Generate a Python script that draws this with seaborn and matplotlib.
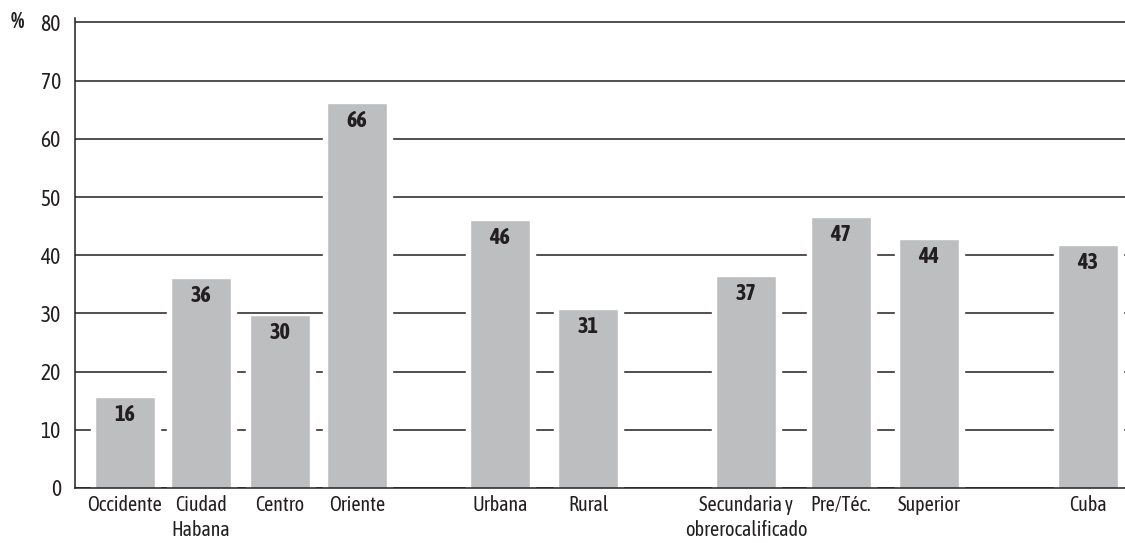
import matplotlib
matplotlib.use("Agg")
import matplotlib.pyplot as plt
import matplotlib.patheffects as pe
from matplotlib import font_manager
import seaborn as sns
import pandas as pd

# Data
categories = ["Occidente", "Ciudad\nHabana", "Centro", "Oriente", "Urbana", "Rural",
              "Secundaria y\nobrerocalificado", "Pre/Téc.", "Superior", "Cuba"]
bar_values = [15.6, 36.0, 29.7, 66.1, 46.0, 30.8, 36.5, 46.6, 42.7, 41.7]
value_labels = ["16", "36", "30", "66", "46", "31", "37", "47", "44", "43"]
y_ticks = [0, 10, 20, 30, 40, 50, 60, 70, 80]

# Layout: bar slot centres along the x axis (groups are spaced unevenly)
slot_x = [125, 201, 280, 357, 500, 588, 746, 841, 929, 1088]

sns.set_style("white")

# the original uses a condensed face; take one if any is installed,
# preferring a family that also ships a bold weight
fonts = [f for f in font_manager.fontManager.ttflist
         if "Condensed" in f.name or "Narrow" in f.name]
with_bold = sorted({f.name for f in fonts
                    if isinstance(f.weight, int) and f.weight >= 600
                    or f.weight in ("bold", "semibold", "demibold", "heavy", "black")})
plain = sorted({f.name for f in fonts})
if with_bold:
    family, fake_bold = with_bold[0], False
elif plain:
    family, fake_bold = plain[0], True
else:
    family, fake_bold = "Liberation Sans", False
plt.rcParams["font.family"] = [family, "DejaVu Sans"]
xtick_size, ytick_size, value_size = 14.5, 15.5, 16

bold_fx = [pe.withStroke(linewidth=1.0, foreground="#231f20")] if fake_bold else None

ink = "#231f20"
bar_gray = "#bcbec0"

df = pd.DataFrame({"pos": slot_x, "value": bar_values})

fig = plt.figure(figsize=(11.25, 5.43), dpi=100)
ax = fig.add_axes([0.0664, 0.1013, 0.9336, 0.866])

# white halo behind each bar to break the grid lines, then the gray bar
sns.barplot(data=df, x="pos", y="value", native_scale=True, width=69 / 76,
            color="white", saturation=1, errorbar=None, ax=ax, zorder=2.1)
sns.barplot(data=df, x="pos", y="value", native_scale=True, width=60 / 76,
            color=bar_gray, saturation=1, errorbar=None, ax=ax, zorder=2.2)

for x, v, lab in zip(slot_x, bar_values, value_labels):
    ax.annotate(lab, (x, v), xytext=(0, -5), textcoords="offset points",
                ha="center", va="top", fontsize=value_size, fontweight="bold",
                color=ink, zorder=3, path_effects=bold_fx)

ax.set_xlim(74.7, 1125)
ax.set_ylim(0, 80.8)
ax.set_yticks(y_ticks)
ax.set_xticks(slot_x, categories, multialignment="center", linespacing=1.3)
ax.set_xlabel("")
ax.set_ylabel("")

ax.set_axisbelow(True)
ax.yaxis.grid(True, color=ink, linewidth=1.1)
ax.xaxis.grid(False)

for side in ["top", "right"]:
    ax.spines[side].set_visible(False)
for side in ["left", "bottom"]:
    ax.spines[side].set_color(ink)
    ax.spines[side].set_linewidth(1.1)
    ax.spines[side].set_zorder(2.5)

ax.tick_params(axis="both", length=0, colors=ink)
ax.tick_params(axis="y", pad=10, labelsize=ytick_size)
ax.tick_params(axis="x", pad=5, labelsize=xtick_size)

fig.text(11 / 1125, 1 - 22 / 543, "%", fontsize=ytick_size, fontweight="bold",
         color=ink, ha="left", va="center", path_effects=bold_fx)

fig.savefig("out.png", dpi=100)
